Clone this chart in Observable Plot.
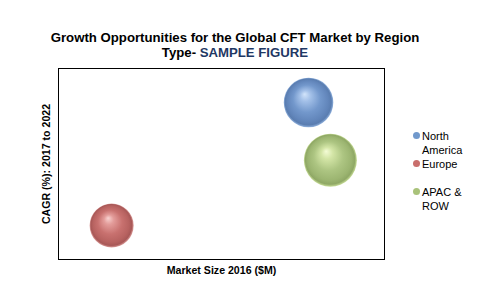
<!DOCTYPE html>
<html>
<head>
<meta charset="utf-8">
<script src="https://cdn.jsdelivr.net/npm/d3@7"></script>
<script src="https://cdn.jsdelivr.net/npm/@observablehq/plot@0.6"></script>
<style>
  html, body { margin: 0; padding: 0; background: #fff; }
  body { width: 480px; height: 288px; position: relative; overflow: hidden; font-family: "Liberation Sans", Arial, sans-serif; }
  #title { position: absolute; left: 0; top: 30px; width: 470px; text-align: center; font-weight: bold; font-size: 13.2px; line-height: 15px; color: #000; }
  #title .s { color: #1F3864; }
  #chart { position: absolute; left: 0; top: 62px; }
  #legend { position: absolute; left: 413px; top: 129px; font-size: 11px; line-height: 14px; color: #000; }
  #legend .item { display: flex; align-items: flex-start; }
  #legend .sw { width: 7px; height: 7px; border-radius: 50%; margin-top: 3px; margin-right: 2px; flex: none; }
</style>
</head>
<body>
<div id="title">Growth Opportunities for the Global CFT Market by Region<br>Type- <span class="s">SAMPLE FIGURE</span></div>
<div id="chart"></div>
<div id="legend"></div>
<script>
const regions = ["North America", "Europe", "APAC & ROW"];
const marketSize = [76.7, 16.3, 83.4];
const cagr = [82.2, 17.8, 52.0];
const bubbleSize = [62, 49, 71];
const legendLines = [["North", "America"], ["Europe"], ["APAC &", "ROW"]];
const colors = ["#7199cc", "#c96e6c", "#a9c27a"];
const gradIds = ["gNA", "gEU", "gAP"];

const data = regions.map((r, i) => ({region: r, x: marketSize[i], y: cagr[i], s: bubbleSize[i], g: `url(#${gradIds[i]})`}));

const plot = Plot.plot({
  width: 480,
  height: 226,
  marginLeft: 58,
  marginRight: 96,
  marginTop: 6,
  marginBottom: 29,
  style: {fontFamily: "Liberation Sans, Arial, sans-serif", background: "transparent"},
  x: {domain: [0, 100]},
  y: {domain: [0, 100]},
  r: {domain: [0, 71], range: [0, 26.5]},
  marks: [
    Plot.frame({stroke: "#000", strokeWidth: 1}),
    Plot.axisX({ticks: [], label: "Market Size 2016 ($M)", labelAnchor: "center", labelArrow: "none", labelOffset: 14, fontSize: 10.6, fontWeight: "bold"}),
    Plot.axisY({ticks: [], label: "CAGR (%): 2017 to 2022", labelAnchor: "center", labelArrow: "none", labelOffset: 16, fontSize: 10.6, fontWeight: "bold"}),
    Plot.dot(data, {x: "x", y: "y", r: "s", fill: "g", stroke: "none"})
  ]
});

// sphere gradients
const ns = "http://www.w3.org/2000/svg";
const defs = document.createElementNS(ns, "defs");
const stops = [
  [["#d2e4fa", 0], ["#a3c0e8", 0.22], ["#7398cc", 0.55], ["#6286bb", 0.82], ["#5a7db0", 0.93], ["#8fb0dc", 1]],
  [["#f8d2d0", 0], ["#e39c9a", 0.22], ["#c8716f", 0.55], ["#b76260", 0.82], ["#a85857", 0.93], ["#dc9d9b", 1]],
  [["#f4fcd6", 0], ["#d3e5a6", 0.22], ["#adc582", 0.55], ["#9cb571", 0.82], ["#8fa865", 0.93], ["#c8dd98", 1]]
];
gradIds.forEach((id, i) => {
  const g = document.createElementNS(ns, "radialGradient");
  g.setAttribute("id", id);
  g.setAttribute("cx", "0.5"); g.setAttribute("cy", "0.5"); g.setAttribute("r", "0.5");
  g.setAttribute("fx", "0.42"); g.setAttribute("fy", "0.33");
  stops[i].forEach(([c, o]) => {
    const s = document.createElementNS(ns, "stop");
    s.setAttribute("offset", o); s.setAttribute("stop-color", c);
    g.appendChild(s);
  });
  defs.appendChild(g);
});
plot.insertBefore(defs, plot.firstChild);
document.getElementById("chart").appendChild(plot);

const leg = document.getElementById("legend");
legendLines.forEach((lines, i) => {
  const it = document.createElement("div");
  it.className = "item";
  it.style.marginBottom = i === 1 ? "14px" : "0px";
  it.innerHTML = `<span class="sw" style="background:${colors[i]}"></span><span>${lines.join("<br>")}</span>`;
  leg.appendChild(it);
});
</script>
</body>
</html>
